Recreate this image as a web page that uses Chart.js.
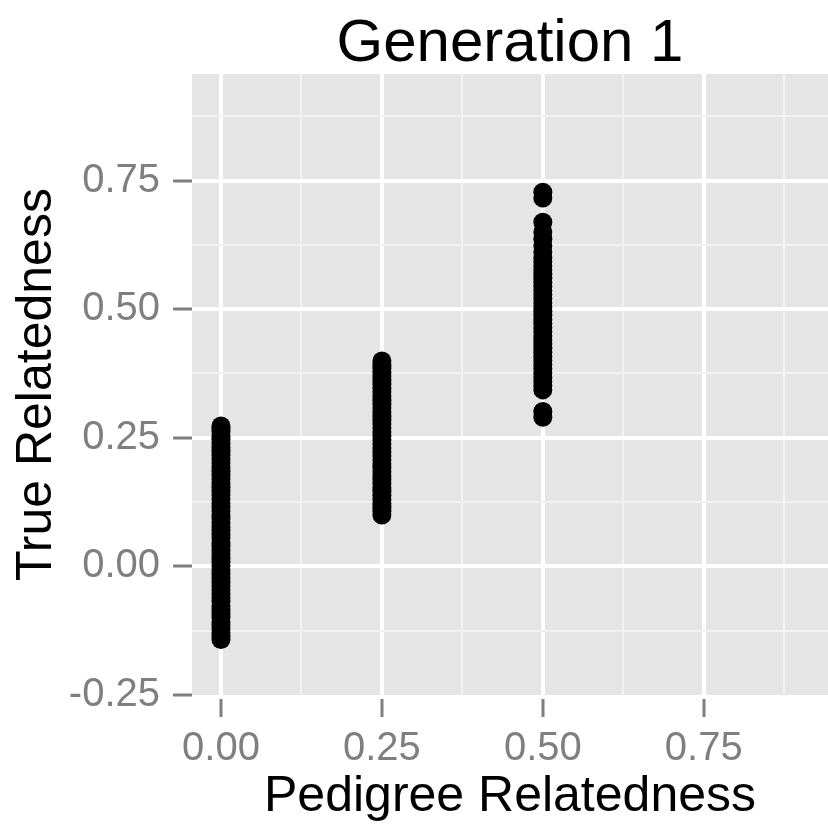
<!DOCTYPE html>
<html>
<head>
<meta charset="utf-8">
<script src="https://cdn.jsdelivr.net/npm/chart.js@4/dist/chart.umd.min.js"></script>
<style>
  html, body { margin: 0; padding: 0; background: #ffffff; }
  #wrap { width: 828px; height: 824px; position: relative; }
</style>
</head>
<body>
<div id="wrap"><canvas id="c" width="828" height="824"></canvas></div>
<script>
// ---- data ----
const chartTitle = 'Generation 1';
const xAxisTitle = 'Pedigree Relatedness';
const yAxisTitle = 'True Relatedness';

const pedigreeLevels = [0, 0.25, 0.5];

const trueRelAt000 = [-0.142, -0.136, -0.129, -0.121, -0.114, -0.108, -0.099, -0.091, -0.084, -0.077,
  -0.068, -0.061, -0.053, -0.046, -0.038, -0.031, -0.022, -0.015, -0.007, 0.001,
  0.008, 0.016, 0.024, 0.031, 0.039, 0.046, 0.055, 0.062, 0.070, 0.077,
  0.085, 0.093, 0.100, 0.108, 0.116, 0.123, 0.131, 0.139, 0.146, 0.154,
  0.162, 0.170, 0.177, 0.185, 0.193, 0.201, 0.208, 0.216, 0.224, 0.231,
  0.239, 0.247, 0.254, 0.262, 0.268, 0.273];

const trueRelAt025 = [0.100, 0.107, 0.115, 0.122, 0.130, 0.138, 0.146, 0.153, 0.161, 0.169,
  0.176, 0.184, 0.192, 0.199, 0.207, 0.215, 0.223, 0.230, 0.238, 0.246,
  0.254, 0.261, 0.269, 0.277, 0.284, 0.292, 0.300, 0.308, 0.315, 0.323,
  0.331, 0.339, 0.346, 0.354, 0.362, 0.370, 0.377, 0.385, 0.392, 0.399];

const trueRelAt050 = [0.290, 0.301, 0.343, 0.351, 0.359, 0.367, 0.376, 0.384, 0.392, 0.400,
  0.408, 0.416, 0.424, 0.432, 0.440, 0.448, 0.456, 0.464, 0.472, 0.480,
  0.488, 0.496, 0.504, 0.512, 0.520, 0.528, 0.536, 0.544, 0.552, 0.560,
  0.568, 0.576, 0.584, 0.592, 0.600, 0.611, 0.623, 0.636, 0.650, 0.669,
  0.716, 0.727];

const xTickValues = [0, 0.25, 0.5, 0.75];
const xTickLabels = ['0.00', '0.25', '0.50', '0.75'];
const xMinorValues = [0.125, 0.375, 0.625, 0.875];
const yTickValues = [-0.25, 0, 0.25, 0.5, 0.75];
const yTickLabels = ['-0.25', '0.00', '0.25', '0.50', '0.75'];
const yMinorValues = [-0.125, 0.125, 0.375, 0.625, 0.875];

const xRange = [-0.045, 0.943];
const yRange = [-0.25, 0.957];

// ---- build ----
const columns = [trueRelAt000, trueRelAt025, trueRelAt050];
const points = [];
columns.forEach((col, i) => col.forEach(v => points.push({ x: pedigreeLevels[i], y: v })));

const FONT = "'Liberation Sans', Arial, Helvetica, sans-serif";
const GREY_TEXT = '#7f7f7f';
const isMajor = (list, v) => list.some(m => Math.abs(m - v) < 1e-9);

const panelBg = {
  id: 'panelBg',
  beforeDraw(chart) {
    const { ctx, chartArea: a } = chart;
    ctx.save();
    ctx.fillStyle = '#e5e5e5';
    ctx.fillRect(a.left, a.top, a.right - a.left, a.bottom - a.top);
    ctx.restore();
  }
};

function gridFor(majorList, hideValues) {
  return {
    drawTicks: true,
    color: ctx => {
      const v = ctx.tick && ctx.tick.value;
      if (hideValues.some(h => Math.abs(h - v) < 1e-9)) return 'rgba(0,0,0,0)';
      return isMajor(majorList, v) ? '#ffffff' : '#f2f2f2';
    },
    lineWidth: ctx => isMajor(majorList, ctx.tick && ctx.tick.value) ? 4 : 2,
    tickColor: ctx => isMajor(majorList, ctx.tick && ctx.tick.value) ? GREY_TEXT : 'rgba(0,0,0,0)',
    tickWidth: 3
  };
}

function noPad(s) {
  s.paddingLeft = 0; s.paddingRight = 0; s.paddingTop = 0; s.paddingBottom = 0;
}

new Chart(document.getElementById('c'), {
  type: 'scatter',
  data: {
    datasets: [{
      data: points,
      backgroundColor: '#000000',
      borderWidth: 0,
      pointRadius: 9.5,
      pointHoverRadius: 9.5
    }]
  },
  plugins: [panelBg],
  options: {
    responsive: false,
    animation: false,
    events: [],
    layout: { padding: 0, autoPadding: false },
    plugins: {
      legend: { display: false },
      tooltip: { enabled: false },
      title: {
        display: true,
        text: chartTitle,
        fullSize: false,
        color: '#000000',
        font: { family: FONT, size: 60, weight: 'normal', lineHeight: 1 },
        padding: { top: 14, bottom: 0 }
      }
    },
    scales: {
      x: {
        type: 'linear',
        min: xRange[0],
        max: xRange[1],
        border: { display: false },
        afterBuildTicks: s => { s.ticks = xTickValues.concat(xMinorValues).sort((a, b) => a - b).map(v => ({ value: v })); },
        afterFit: s => { s.height = 129; noPad(s); },
        grid: Object.assign(gridFor(xTickValues, []), { tickLength: 34, tickBorderDash: [0, 4, 18, 100] }),
        ticks: {
          autoSkip: false,
          maxRotation: 0,
          padding: 0,
          color: GREY_TEXT,
          font: { family: FONT, size: 40, lineHeight: 1 },
          callback: v => { const i = xTickValues.findIndex(m => Math.abs(m - v) < 1e-9); return i >= 0 ? xTickLabels[i] : ''; }
        },
        title: {
          display: true,
          text: xAxisTitle,
          color: '#000000',
          font: { family: FONT, size: 50, lineHeight: 1 },
          padding: { top: 0, bottom: 2 }
        }
      },
      y: {
        type: 'linear',
        min: yRange[0],
        max: yRange[1],
        border: { display: false },
        afterBuildTicks: s => { s.ticks = yTickValues.concat(yMinorValues).sort((a, b) => a - b).map(v => ({ value: v })); },
        afterFit: s => { s.width = 192; noPad(s); },
        grid: Object.assign(gridFor(yTickValues, [-0.25]), { tickLength: 19 }),
        ticks: {
          autoSkip: false,
          padding: 13,
          color: GREY_TEXT,
          font: { family: FONT, size: 40, lineHeight: 1 },
          callback: v => { const i = yTickValues.findIndex(m => Math.abs(m - v) < 1e-9); return i >= 0 ? yTickLabels[i] : ''; }
        },
        title: {
          display: true,
          text: yAxisTitle,
          color: '#000000',
          font: { family: FONT, size: 50, lineHeight: 1 },
          padding: { top: 12, bottom: 0 }
        }
      }
    }
  }
});
</script>
</body>
</html>
